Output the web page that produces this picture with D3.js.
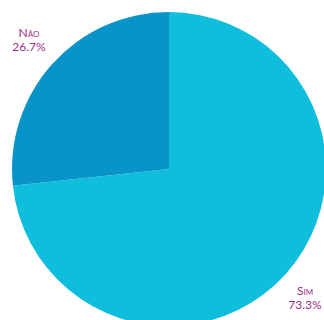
<!DOCTYPE html>
<html>
<head>
<meta charset="utf-8">
<script src="https://cdn.jsdelivr.net/npm/d3@7"></script>
<style>
html,body{margin:0;padding:0;background:#fff;}
svg{display:block;}
</style>
</head>
<body>
<svg id="chart" width="324" height="320"></svg>
<script>
const categories = ["Sim", "Não"];
const values = [73.3, 26.7];
const labels = ["73.3%", "26.7%"];
const colors = ["#0FBDDD", "#0894C8"];

const svg = d3.select("#chart");
const cx = 169, cy = 169, r = 157;
const g = svg.append("g").attr("transform", `translate(${cx},${cy})`);

const pie = d3.pie().sort(null).value(d => d.v);
const data = categories.map((c, i) => ({c, v: values[i], l: labels[i], col: colors[i]}));
const arcs = pie(data);
const arc = d3.arc().innerRadius(0).outerRadius(r);

g.selectAll("path").data(arcs).enter().append("path")
  .attr("d", arc).attr("fill", d => d.data.col);

const labelPos = {"Sim": [305, 295], "Não": [29, 37]};
const common = sel => sel
  .attr("text-anchor", "middle")
  .attr("font-family", "Lato, 'Open Sans', sans-serif")
  .attr("font-size", 12)
  .attr("fill", "#9C2D86");

svg.selectAll("text.cat").data(data).enter().append("text")
  .attr("class", "cat").call(common)
  .style("font-variant", "small-caps")
  .attr("x", d => labelPos[d.c][0])
  .attr("y", d => labelPos[d.c][1])
  .text(d => d.c);
svg.selectAll("text.pct").data(data).enter().append("text")
  .attr("class", "pct").call(common)
  .attr("x", d => labelPos[d.c][0])
  .attr("y", d => labelPos[d.c][1] + 14)
  .text(d => d.l);
</script>
</body>
</html>
